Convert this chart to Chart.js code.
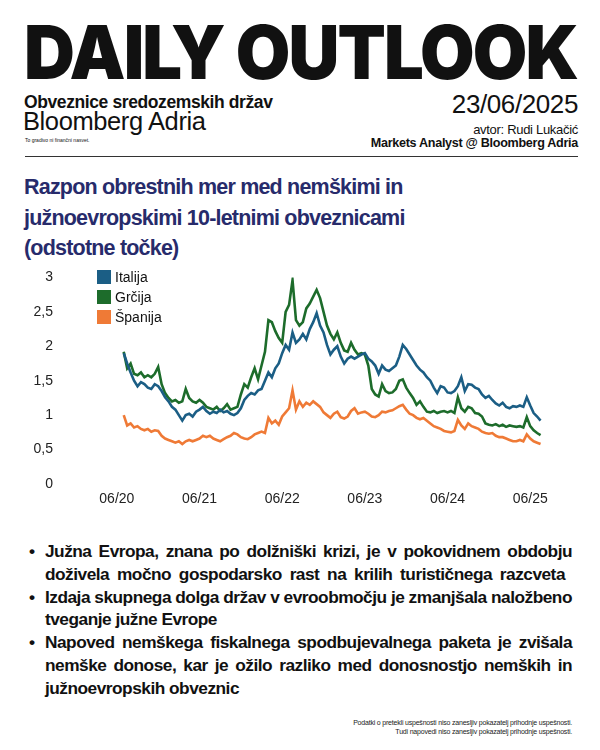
<!DOCTYPE html>
<html>
<head>
<meta charset="utf-8">
<script src="https://cdn.jsdelivr.net/npm/chart.js@4.4.1/dist/chart.umd.min.js"></script>
<style>
  html, body { margin:0; padding:0; background:#fff; }
  body { width:600px; height:750px; position:relative; overflow:hidden; font-family:"Liberation Sans", Arial, sans-serif; color:#111; }
  .abs { position:absolute; white-space:nowrap; }
  #brand { left:24px; top:15px; font-family:Inter, sans-serif; font-weight:900; font-size:74px; line-height:74px; letter-spacing:-2px; transform-origin:left top; }
  #sub1 { left:24px; top:92px; font-weight:bold; font-size:17.5px; letter-spacing:-0.4px; }
  #sub2 { left:23px; top:107px; font-size:25.5px; letter-spacing:-0.4px; }
  #note { left:25px; top:137px; font-size:5px; }
  #date { right:22px; top:89px; font-size:26px; letter-spacing:-0.4px; }
  #author { right:22px; top:122px; font-size:13px; letter-spacing:-0.3px; }
  #role { right:22px; top:136px; font-size:12.6px; font-weight:bold; letter-spacing:-0.3px; }
  #rule { left:25px; top:156px; width:553px; height:1px; background:#333; }
  #title { left:24px; top:172px; font-weight:bold; font-size:21.5px; line-height:30.5px; color:#272b6b; letter-spacing:-0.8px; white-space:normal; width:440px; }
  #chartBox { left:0; top:262px; width:600px; height:252px; }
  #legend { left:97px; top:270px; font-size:14px; }
  #legend div { height:20px; line-height:14px; display:flex; align-items:flex-start; }
  #legend span.sw { width:14px; height:14px; display:inline-block; margin-right:4px; }
  #bullets { left:45px; top:540px; width:527px; font-weight:bold; font-size:17.3px; line-height:22.8px; white-space:normal; letter-spacing:-0.5px; }
  #bullets .ln { display:block; white-space:nowrap; text-align:justify; text-align-last:justify; position:relative; }
  #bullets .ln.end { text-align-last:left; }
  #bullets .ln.short { padding-right:7px; }
  #bullets .b { position:absolute; left:-16px; top:0; }
  #foot { right:28px; top:718px; font-size:7px; line-height:9px; text-align:right; color:#222; letter-spacing:-0.2px; }
</style>
</head>
<body>
<div class="abs" id="brand">DAILY OUTLOOK</div>
<div class="abs" id="sub1">Obveznice sredozemskih držav</div>
<div class="abs" id="sub2">Bloomberg Adria</div>
<div class="abs" id="note">To gradivo ni finančni nasvet.</div>
<div class="abs" id="date">23/06/2025</div>
<div class="abs" id="author">avtor: Rudi Lukačić</div>
<div class="abs" id="role">Markets Analyst @ Bloomberg Adria</div>
<div class="abs" id="rule"></div>
<div class="abs" id="title">Razpon obrestnih mer med nemškimi in<br>južnoevropskimi 10-letnimi obveznicami<br>(odstotne točke)</div>
<div class="abs" id="chartBox"><canvas id="lineChart"></canvas></div>
<div class="abs" id="legend"></div>
<div class="abs" id="bullets">
  <span class="ln"><span class="b">•</span>Južna Evropa, znana po dolžniški krizi, je v pokovidnem obdobju</span>
  <span class="ln short">doživela močno gospodarsko rast na krilih turističnega razcveta</span>
  <span class="ln"><span class="b">•</span>Izdaja skupnega dolga držav v evroobmočju je zmanjšala naložbeno</span>
  <span class="ln end">tveganje južne Evrope</span>
  <span class="ln"><span class="b">•</span>Napoved nemškega fiskalnega spodbujevalnega paketa je zvišala</span>
  <span class="ln">nemške donose, kar je ožilo razliko med donosnostjo nemških in</span>
  <span class="ln end">južnoevropskih obveznic</span>
</div>
<div class="abs" id="foot">Podatki o pretekli uspešnosti niso zanesljiv pokazatelj prihodnje uspešnosti.<br>Tudi napovedi niso zanesljiv pokazatelj prihodnje uspešnosti.</div>

<script>
// DATA (months since 06/2020, half-month steps)
const seriesNames = ['Italija', 'Grčija', 'Španija'];
const seriesColors = ['#1b5e85', '#1d6c2b', '#ef7a36'];
const xTicks = [0, 12, 24, 36, 48, 60];
const xTickLabels = ['06/20', '06/21', '06/22', '06/23', '06/24', '06/25'];
const yTicks = [0, 0.5, 1, 1.5, 2, 2.5, 3];

const months = Array.from({length: 122}, (_, i) => 1 + i * 0.5);

const italija = [
  1.90,1.75,1.62,1.50,1.42,1.48,1.45,1.40,1.38,1.45,
  1.42,1.35,1.26,1.20,1.12,1.08,1.00,0.92,1.00,1.02,
  0.98,1.05,1.08,1.12,1.06,1.02,1.05,1.03,1.08,1.04,
  1.06,1.02,1.00,1.03,1.10,1.22,1.28,1.32,1.30,1.36,
  1.38,1.50,1.62,1.55,1.68,1.75,1.90,2.02,1.95,2.20,
  2.05,2.10,2.18,2.10,2.25,2.35,2.48,2.30,2.20,2.02,
  1.88,1.95,2.00,1.85,1.75,1.82,1.85,1.82,1.85,1.88,
  1.90,1.82,1.78,1.72,1.60,1.72,1.66,1.64,1.68,1.72,
  1.85,2.02,1.96,1.88,1.80,1.72,1.66,1.62,1.55,1.50,
  1.40,1.32,1.42,1.40,1.33,1.32,1.35,1.42,1.55,1.35,
  1.45,1.44,1.40,1.38,1.30,1.25,1.28,1.22,1.17,1.14,
  1.18,1.12,1.10,1.13,1.12,1.14,1.12,1.26,1.14,1.03,
  0.98,0.92
];
const grcija = [
  1.92,1.68,1.75,1.60,1.58,1.62,1.55,1.58,1.55,1.60,
  1.70,1.45,1.32,1.25,1.20,1.22,1.18,1.20,1.38,1.25,
  1.20,1.18,1.22,1.18,1.12,1.10,1.08,1.12,1.06,1.10,
  1.16,1.08,1.10,1.12,1.30,1.45,1.40,1.55,1.68,1.52,
  1.72,1.92,2.38,2.35,2.22,2.12,2.05,2.50,2.60,2.96,
  2.38,2.30,2.35,2.55,2.62,2.72,2.82,2.70,2.50,2.30,
  2.18,2.10,2.20,2.05,1.94,1.92,2.05,1.95,1.88,1.90,
  1.88,1.72,1.38,1.30,1.27,1.45,1.35,1.32,1.33,1.38,
  1.50,1.52,1.40,1.32,1.25,1.15,1.20,1.12,1.05,1.04,
  1.06,1.03,1.05,1.06,1.04,1.06,1.03,1.26,1.10,1.05,
  1.12,1.10,1.03,1.02,0.98,0.88,0.86,0.85,0.87,0.84,
  0.86,0.83,0.85,0.84,0.83,0.84,0.82,0.97,0.84,0.78,
  0.74,0.71
];
const spanija = [
  1.00,0.85,0.88,0.82,0.84,0.80,0.78,0.80,0.76,0.78,
  0.77,0.70,0.66,0.64,0.62,0.60,0.62,0.58,0.62,0.64,
  0.62,0.64,0.66,0.70,0.68,0.70,0.66,0.64,0.62,0.65,
  0.68,0.70,0.74,0.72,0.68,0.66,0.65,0.68,0.72,0.74,
  0.76,0.74,0.96,0.88,0.92,0.86,0.98,1.04,1.10,1.36,
  1.08,1.20,1.12,1.18,1.15,1.20,1.16,1.12,1.04,1.00,
  0.96,1.02,1.05,0.97,0.95,0.98,1.06,1.10,1.02,1.04,
  1.05,1.02,0.98,0.97,1.00,1.05,1.04,1.06,1.07,1.10,
  1.13,1.15,1.08,1.02,1.00,0.96,0.94,0.96,0.92,0.88,
  0.84,0.82,0.80,0.77,0.76,0.75,0.77,0.93,0.85,0.80,
  0.88,0.84,0.82,0.80,0.76,0.74,0.73,0.74,0.70,0.68,
  0.68,0.66,0.64,0.62,0.62,0.64,0.62,0.72,0.66,0.62,
  0.60,0.58
];

// fit the big header to its width
const brand = document.getElementById('brand');
const bw = brand.getBoundingClientRect().width;
brand.style.transform = 'scaleX(' + (553 / bw) + ')';

// HTML legend
const legend = document.getElementById('legend');
seriesNames.forEach((n, i) => {
  const row = document.createElement('div');
  row.innerHTML = '<span class="sw" style="background:' + seriesColors[i] + '"></span>' + n;
  legend.appendChild(row);
});

function initChart(){
  const ctx = document.getElementById('lineChart');
  const values = [italija, grcija, spanija];
  new Chart(ctx, {
    type: 'line',
    data: {
      datasets: seriesNames.map((n, i) => ({
        label: n,
        data: months.map((m, k) => ({x: m, y: values[i][k]})),
        borderColor: seriesColors[i],
        backgroundColor: seriesColors[i],
        borderWidth: 2.6,
        pointRadius: 0,
        tension: 0
      }))
    },
    options: {
      responsive: true,
      maintainAspectRatio: false,
      animation: false,
      layout: { padding: { top: 15, right: 56, left: 0, bottom: 0 } },
      scales: {
        x: {
          type: 'linear', min: -8.25, max: 62,
          afterBuildTicks: s => { s.ticks = xTicks.map(v => ({value: v})); },
          afterFit: s => { s.height = 30; },
          grid: { display: false, drawTicks: false },
          border: { display: false },
          ticks: {
            padding: 7, color: '#222', maxRotation: 0, autoSkip: false,
            font: { family: '"Liberation Sans", Arial, sans-serif', size: 14 },
            callback: v => xTickLabels[xTicks.indexOf(v)]
          }
        },
        y: {
          min: 0, max: 3,
          afterBuildTicks: s => { s.ticks = yTicks.map(v => ({value: v})); },
          afterFit: s => { s.width = 60; },
          grid: { display: false, drawTicks: false },
          border: { display: false },
          ticks: {
            padding: 7, color: '#222',
            font: { family: '"Liberation Sans", Arial, sans-serif', size: 14 },
            callback: v => String(v).replace('.', ',')
          }
        }
      },
      plugins: { legend: { display: false }, tooltip: { enabled: false } }
    }
  });
}

initChart();
</script>
</body>
</html>
